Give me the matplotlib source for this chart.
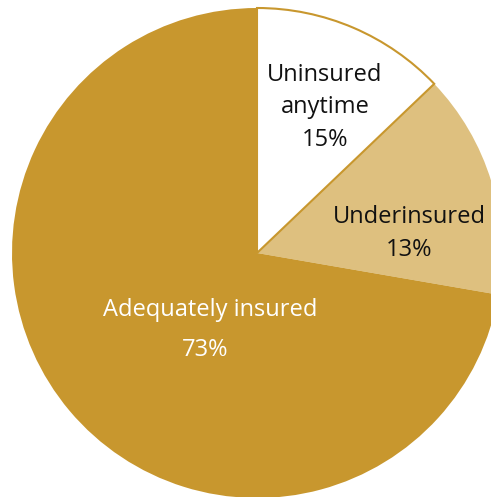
import matplotlib
matplotlib.use("Agg")
import matplotlib.pyplot as plt

# Data
categories = ["Uninsured\nanytime", "Underinsured", "Adequately insured"]
label_pcts = ["15%", "13%", "73%"]
wedge_shares = [13, 15, 73]  # wedge sizes as drawn in the reference
colors = ["#FFFFFF", "#DEC07F", "#C8972E"]
text_colors = ["#111111", "#111111", "#FFFFFF"]

W, H = 491, 497
fig = plt.figure(figsize=(W / 100, H / 100), dpi=100)
ax = fig.add_axes([0, 0, 1, 1])

cx, cy, R = 257.0, 253.0, 245.0

wedges, _ = ax.pie(wedge_shares, colors=colors, startangle=90, counterclock=False,
                   radius=1.0, center=(0, 0), frame=True,
                   wedgeprops=dict(linewidth=0))
ax.set_aspect("equal")
ax.set_xlim((0 - cx) / R, (W - cx) / R)
ax.set_ylim((cy - H) / R, (cy - 0) / R)
ax.axis("off")
wedges[0].set_edgecolor("#C8972E")
wedges[0].set_linewidth(1.5)
wedges[0].set_zorder(3)

def px(x, y):
    return ((x - cx) / R, (cy - y) / R)

font = "Open Sans"
fs = 17
for (x, y, s, c) in [
    (325, 75, "Uninsured", text_colors[0]),
    (325, 107, "anytime", text_colors[0]),
    (325, 140, label_pcts[0], text_colors[0]),
    (409, 217, categories[1], text_colors[1]),
    (409, 250, label_pcts[1], text_colors[1]),
    (210, 310, categories[2], text_colors[2]),
    (205, 350, label_pcts[2], text_colors[2]),
]:
    X, Y = px(x, y)
    ax.text(X, Y, s, ha="center", va="center", fontsize=fs, family=font, color=c, zorder=5)

fig.savefig("out.png", dpi=100)
